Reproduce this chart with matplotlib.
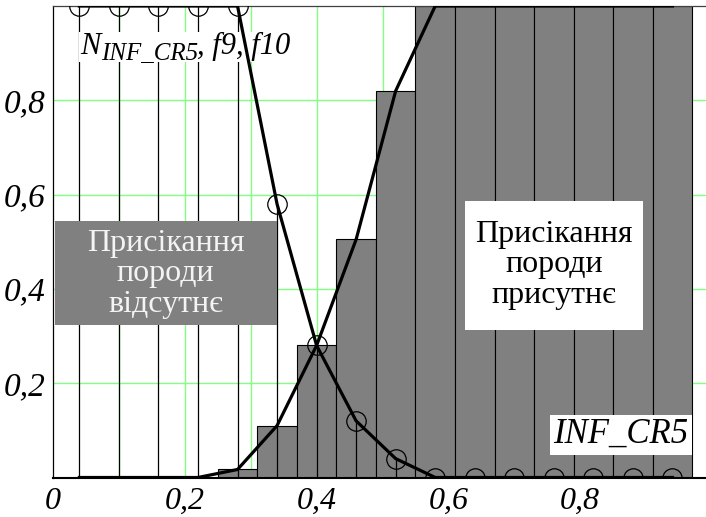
import matplotlib
matplotlib.use('Agg')
import matplotlib.pyplot as plt
from matplotlib.patches import Rectangle

plt.rcParams['font.family'] = 'Liberation Serif'

# точки розрахунку
x = [0.04, 0.10, 0.16, 0.22, 0.28, 0.34, 0.40, 0.46,
     0.52, 0.58, 0.64, 0.70, 0.76, 0.82, 0.88, 0.94]
# N_INF_CR5 - спадна функція (кружки + стовпчики-лінії)
n_dec = [1, 1, 1, 1, 1, 0.58, 0.28, 0.12,
         0.04, 0, 0, 0, 0, 0, 0, 0]
# зростаюча функція (сірі стовпчики)
n_inc = [0, 0, 0, 0, 0.017, 0.11, 0.28, 0.505,
         0.82, 1, 1, 1, 1, 1, 1, 1]

xticks = [0, 0.2, 0.4, 0.6, 0.8]
xtick_labels = ['0', '0,2', '0,4', '0,6', '0,8']
yticks = [0.2, 0.4, 0.6, 0.8]
ytick_labels = ['0,2', '0,4', '0,6', '0,8']

fig = plt.figure(figsize=(7.06, 5.17), dpi=100)
ax = fig.add_axes([53 / 706, 39.5 / 517, 653 / 706, 471.5 / 517])
ax.set_xlim(0, 653 / 659)
ax.set_ylim(0, 1)

# сітка
for gx in [0.1, 0.2, 0.3, 0.4, 0.5, 0.6, 0.7, 0.8, 0.9]:
    ax.axvline(gx, color='#80ff80', lw=1, zorder=0)
for gy in yticks:
    ax.axhline(gy, color='#80ff80', lw=1, zorder=0)

ax.bar(x, n_inc, width=0.06, color='#808080', edgecolor='black', lw=0.8, zorder=2)
ax.vlines(x, 0, n_dec, color='black', lw=0.9, zorder=3)
ax.plot(x, n_dec, 'o', mfc='none', mec='black', ms=14, mew=0.9, zorder=4)

# підписи-плашки
ax.add_patch(Rectangle((0.003, 0.323), 0.337, 0.222, fc='#808080', ec='none', zorder=5))
ax.text(0.171, 0.432, 'Присікання\nпороди\nвідсутнє', ha='center', va='center',
        fontsize=23, color='#f4f4f4', linespacing=1.08, zorder=6)

ax.add_patch(Rectangle((0.625, 0.312), 0.27, 0.275, fc='white', ec='none', zorder=5))
ax.text(0.76, 0.451, 'Присікання\nпороди\nприсутнє', ha='center', va='center',
        fontsize=23, color='black', linespacing=1.08, zorder=6)

ax.text(0.862, 0.091, 'INF_CR5', ha='center', va='center', fontsize=25, style='italic',
        bbox=dict(boxstyle='square,pad=0.1', fc='white', ec='none'), zorder=6)

ax.add_patch(Rectangle((0.04, 0.882), 0.33, 0.062, fc='white', ec='none', zorder=5))
ax.text(0.042, 0.898, 'N', fontsize=22, style='italic', va='baseline', zorder=6)
ax.text(0.073, 0.886, 'INF_CR5', fontsize=18, style='italic', va='baseline', zorder=6)
ax.text(0.219, 0.898, ', f9, f10', fontsize=22, style='italic', va='baseline', zorder=6)

# криві
ax.plot(x, n_dec, color='black', lw=2.3, zorder=7)
ax.plot(x, n_inc, color='black', lw=2.3, zorder=7)

ax.set_xticks(xticks)
ax.set_xticklabels(xtick_labels, fontsize=23, style='italic')
ax.set_yticks(yticks)
ax.set_yticklabels(ytick_labels, fontsize=24, style='italic')
ax.tick_params(length=0)
ax.tick_params(axis='x', pad=7)
ax.tick_params(axis='y', pad=5)

ax.spines['right'].set_visible(False)
ax.spines['top'].set_color('#404040')
ax.spines['left'].set_linewidth(0.9)
ax.spines['bottom'].set_linewidth(1.5)
ax.spines['top'].set_linewidth(0.9)

fig.savefig('out.png', dpi=100)
